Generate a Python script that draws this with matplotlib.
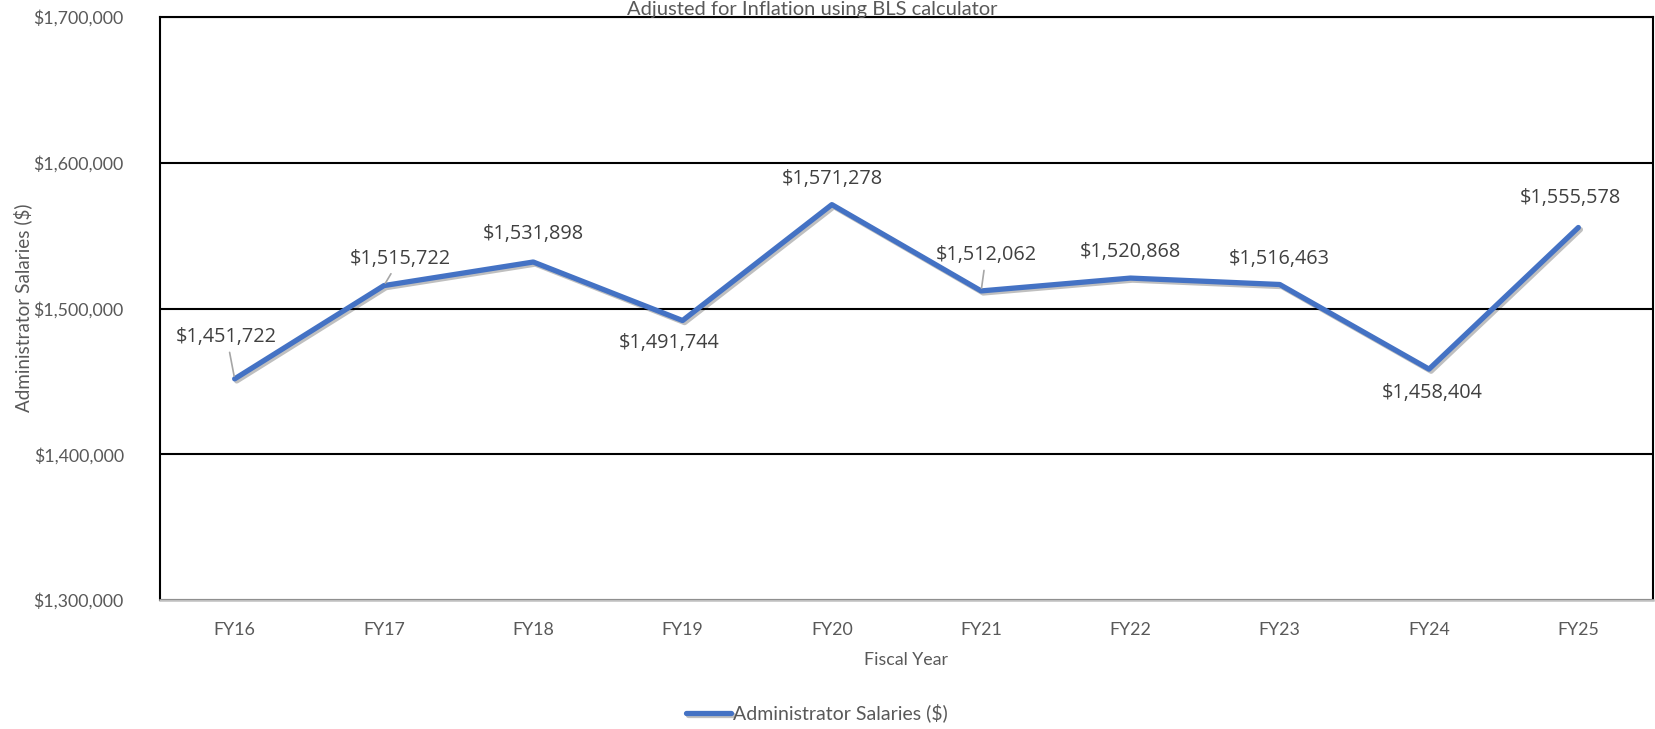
import matplotlib
matplotlib.use("Agg")
import matplotlib.pyplot as plt
import matplotlib.patheffects as pe
from matplotlib.ticker import FuncFormatter

years = ["FY16", "FY17", "FY18", "FY19", "FY20", "FY21", "FY22", "FY23", "FY24", "FY25"]
salaries = [1451722, 1515722, 1531898, 1491744, 1571278, 1512062, 1520868, 1516463, 1458404, 1555578]
series_name = "Administrator Salaries ($)"
subtitle = "Adjusted for Inflation using BLS calculator"

# label offsets (pixels) and which labels have leader lines
label_offsets = [(-8, 42), (16, 27), (0, 28), (-13, -22), (0, 26), (5, 36), (0, 26), (0, 26), (3, -24), (-8, 29)]
leaders = [True, True, False, False, False, True, False, False, False, False]

UI = "Lato"
LBL = "Open Sans"
gray = "#595959"
blue = "#4472C4"

fig = plt.figure(figsize=(16.56, 7.29), dpi=100)
ax = fig.add_axes([160/1656, 1-600/729, (1653-160)/1656, (600-17)/729])

x = list(range(len(years)))
ax.plot(x, salaries, color=blue, lw=3.8, solid_capstyle="round", solid_joinstyle="round",
        label=series_name, zorder=3,
        path_effects=[pe.SimpleLineShadow(offset=(1.5, -1.5), shadow_color="black", alpha=0.25),
                      pe.Normal()])

for i, (xi, v) in enumerate(zip(x, salaries)):
    dx, dy = label_offsets[i]
    kw = {}
    if leaders[i]:
        kw["arrowprops"] = dict(arrowstyle="-", color="#A6A6A6", lw=1.2, shrinkA=2, shrinkB=2)
    ax.annotate(f"${v:,.0f}", xy=(xi, v), xytext=(dx, dy), textcoords="offset pixels",
                ha="center", va="center", fontsize=14.3, color="#404040", family=LBL, zorder=4, **kw)

ax.set_xlim(-0.5, len(years) - 0.5)
ax.set_ylim(1300000, 1700000)
ax.set_yticks([1300000, 1400000, 1500000, 1600000, 1700000])
ax.yaxis.set_major_formatter(FuncFormatter(lambda v, p: f"${v:,.0f}"))
ax.set_xticks(x)
ax.set_xticklabels(years)
ax.tick_params(axis="both", length=0, labelsize=12.8, labelcolor=gray)
ax.tick_params(axis="y", pad=26)
ax.tick_params(axis="x", pad=16)
for lab in ax.get_xticklabels() + ax.get_yticklabels():
    lab.set_family(UI)

ax.grid(axis="y", color="black", lw=1.5, zorder=1)
ax.set_axisbelow(True)
for s in ["top", "right", "left"]:
    ax.spines[s].set_color("black")
    ax.spines[s].set_linewidth(1.5)
ax.spines["bottom"].set_color("#BFBFBF")
ax.spines["bottom"].set_linewidth(1.8)

ax.set_xlabel("Fiscal Year", fontsize=12.8, color=gray, family=UI, labelpad=10)
fig.text(23/1656, 1-308/729, "Administrator Salaries ($)", rotation=90, ha="center", va="center",
         fontsize=13.6, color=gray, family=UI)

fig.text(812/1656, 1-14.5/729, subtitle, ha="center", va="baseline", fontsize=14.5, color=gray, family=UI)

fig.legend(loc="center", bbox_to_anchor=(817/1656, 1-713/729), frameon=False, ncol=1,
           handlelength=2.3, handletextpad=0.1, prop={"family": UI, "size": 14}, labelcolor=gray)

fig.savefig("out.png", dpi=100)
